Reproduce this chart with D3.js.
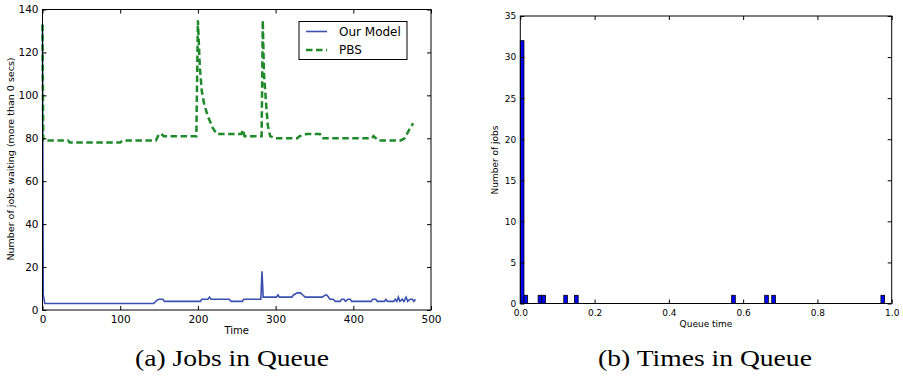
<!DOCTYPE html>
<html>
<head>
<meta charset="utf-8">
<script src="https://cdn.jsdelivr.net/npm/d3@7"></script>
<style>
  body { margin: 0; background: #fff; }
  svg text { font-family: "DejaVu Sans", sans-serif; fill: #000; }
  .caption { font-family: "Liberation Serif", "DejaVu Serif", serif; }
</style>
</head>
<body>
<svg id="chart" width="903" height="380"></svg>
<script>
'use strict';

// (a) jobs in queue - "Our Model"
let modelTime = [0, 1, 3, 143, 147, 150, 155, 157, 203, 205, 213, 215, 217, 240, 243, 257, 259, 281, 282.5, 284,
    301, 303, 305, 321, 323, 328, 332, 335, 338, 360, 364, 366, 370, 374, 377, 383, 385, 388, 390, 393, 396, 398,
    423, 425, 429, 431, 440, 442, 444, 452, 454, 456, 458, 460, 463, 465, 468, 470, 473, 476, 478, 480];
let modelJobs = [133, 7, 3, 3, 4.5, 5, 5, 4, 4, 5, 5, 6, 5, 5, 4, 4, 5, 5, 18, 6,
    6, 7, 6, 6, 7, 8, 8, 7, 6, 6, 7, 7, 5, 5, 4, 4, 5, 5, 4, 5, 5, 4,
    4, 5, 5, 4, 4, 5, 4, 4, 5, 4, 6, 4, 5, 4, 6, 4, 5, 5, 4, 5];

// (a) jobs in queue - "PBS"
let pbsTime = [0, 1, 33, 35, 100, 103, 146, 150, 153, 156, 198, 200, 202.5, 205, 208, 213, 219, 224, 256, 258, 260,
    282, 283.5, 285, 288, 290, 293, 300, 328, 331, 340, 357, 360, 424, 426, 432, 461, 466, 472, 477];
let pbsJobs = [133, 79, 79, 78, 78, 79, 79, 82, 82, 81, 81, 135, 113, 102, 96, 90, 85, 82, 82, 84, 81,
    81, 135, 110, 95, 86, 81, 80, 80, 81, 82, 82, 80, 80, 81, 79, 79, 80, 84, 87];

// (b) times in queue - histogram bins (left edge) and counts
let binStart = [0.0, 0.0099, 0.048, 0.058, 0.117, 0.146, 0.569, 0.658, 0.677, 0.971];
let binCount = [32, 1, 1, 1, 1, 1, 1, 1, 1, 1];
let binWidth = 0.0099;

let leftXTicks = [0, 100, 200, 300, 400, 500];
let leftYTicks = [0, 20, 40, 60, 80, 100, 120, 140];
let rightXTicks = [0, 0.2, 0.4, 0.6, 0.8, 1.0];
let rightYTicks = [0, 5, 10, 15, 20, 25, 30, 35];

let svg = d3.select('#chart');

function frame(g, x, y, xTicks, yTicks, xFmt, fontSize) {
    let w = x.range()[1] - x.range()[0],
        h = y.range()[0] - y.range()[1];

    // inward ticks on all four sides, labels only bottom / left
    let bottom = g.append('g').attr('transform', 'translate(0,' + y.range()[0] + ')')
        .call(d3.axisBottom(x).tickValues(xTicks).tickSize(-4).tickPadding(6).tickFormat(xFmt));
    let top = g.append('g').attr('transform', 'translate(0,' + y.range()[1] + ')')
        .call(d3.axisTop(x).tickValues(xTicks).tickSize(-4).tickFormat(''));
    let left = g.append('g').attr('transform', 'translate(' + x.range()[0] + ',0)')
        .call(d3.axisLeft(y).tickValues(yTicks).tickSize(-4).tickPadding(4).tickFormat(d3.format('d')));
    let right = g.append('g').attr('transform', 'translate(' + x.range()[1] + ',0)')
        .call(d3.axisRight(y).tickValues(yTicks).tickSize(-4).tickFormat(''));

    [bottom, top, left, right].forEach(function(a) {
        a.select('.domain').remove();
        a.selectAll('line').attr('stroke', '#000');
        a.selectAll('text').style('font-size', fontSize + 'px').attr('font-family', null);
    });

    g.append('rect')
        .attr('x', x.range()[0]).attr('y', y.range()[1])
        .attr('width', w).attr('height', h)
        .attr('fill', 'none').attr('stroke', '#000').attr('stroke-width', 1);
}

// ---------- (a) Jobs in Queue ----------
let ga = svg.append('g');
let xa = d3.scaleLinear().domain([0, 500]).range([42.5, 431]),
    ya = d3.scaleLinear().domain([0, 140]).range([310, 9.5]);

let lineA = d3.line()
    .x(function(d) { return xa(d[0]); })
    .y(function(d) { return ya(d[1]); });

ga.append('path')
    .datum(modelTime.map(function(t, i) { return [t, modelJobs[i]]; }))
    .attr('d', lineA)
    .attr('fill', 'none')
    .attr('stroke', '#3a50b0')
    .attr('stroke-width', 1.6);

ga.append('path')
    .datum(pbsTime.map(function(t, i) { return [t, pbsJobs[i]]; }))
    .attr('d', lineA)
    .attr('fill', 'none')
    .attr('stroke', '#1f8a2a')
    .attr('stroke-width', 2.5)
    .attr('stroke-dasharray', '6.5,3.5');

frame(ga, xa, ya, leftXTicks, leftYTicks, d3.format('d'), 10.5);

ga.append('text')
    .attr('x', (xa.range()[0] + xa.range()[1]) / 2).attr('y', 334)
    .attr('text-anchor', 'middle')
    .style('font-size', '10px')
    .text('Time');

ga.append('text')
    .attr('transform', 'translate(14,159) rotate(-90)')
    .attr('text-anchor', 'middle')
    .style('font-size', '9.5px')
    .text('Number of jobs waiting (more than 0 secs)');

// legend
let leg = ga.append('g');
leg.append('rect')
    .attr('x', 299).attr('y', 21.5).attr('width', 108).attr('height', 38)
    .attr('fill', '#fff').attr('stroke', '#000').attr('stroke-width', 1);
leg.append('line')
    .attr('x1', 306).attr('x2', 327).attr('y1', 31.5).attr('y2', 31.5)
    .attr('stroke', '#3a50b0').attr('stroke-width', 1.6);
leg.append('line')
    .attr('x1', 306).attr('x2', 327).attr('y1', 50).attr('y2', 50)
    .attr('stroke', '#1f8a2a').attr('stroke-width', 2.5).attr('stroke-dasharray', '6.5,3.5');
leg.append('text').attr('x', 339).attr('y', 35.5).style('font-size', '12px').text('Our Model');
leg.append('text').attr('x', 339).attr('y', 54).style('font-size', '12px').text('PBS');

// ---------- (b) Times in Queue ----------
let gb = svg.append('g');
let xb = d3.scaleLinear().domain([0, 1]).range([520.3, 891.7]),
    yb = d3.scaleLinear().domain([0, 35]).range([303.5, 16]);

gb.selectAll('rect.bar')
    .data(binStart)
    .enter().append('rect')
    .attr('class', 'bar')
    .attr('x', function(d) { return xb(d); })
    .attr('y', function(d, i) { return yb(binCount[i]); })
    .attr('width', function(d) { return xb(d + binWidth) - xb(d); })
    .attr('height', function(d, i) { return yb(0) - yb(binCount[i]); })
    .attr('fill', '#0000ff')
    .attr('stroke', '#000')
    .attr('stroke-width', 0.8);

frame(gb, xb, yb, rightXTicks, rightYTicks, d3.format('.1f'), 9);

gb.append('text')
    .attr('x', (xb.range()[0] + xb.range()[1]) / 2).attr('y', 326.5)
    .attr('text-anchor', 'middle')
    .style('font-size', '9px')
    .text('Queue time');

gb.append('text')
    .attr('transform', 'translate(498,160) rotate(-90)')
    .attr('text-anchor', 'middle')
    .style('font-size', '9px')
    .text('Number of jobs');

// captions: computer modern is wider than Times, so stretch horizontally
svg.append('text').attr('class', 'caption')
    .attr('transform', 'translate(232,366) scale(1.2,1)')
    .attr('text-anchor', 'middle')
    .style('font-size', '23px')
    .text('(a) Jobs in Queue');
svg.append('text').attr('class', 'caption')
    .attr('transform', 'translate(705,366) scale(1.2,1)')
    .attr('text-anchor', 'middle')
    .style('font-size', '23px')
    .text('(b) Times in Queue');
</script>
</body>
</html>
